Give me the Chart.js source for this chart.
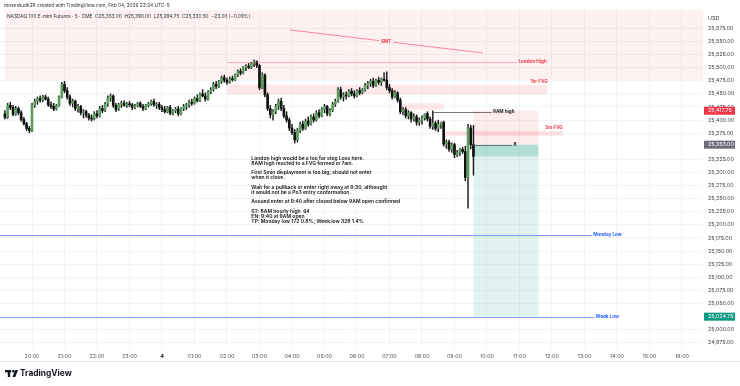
<!DOCTYPE html>
<html>
<head>
<meta charset="utf-8">
<script src="https://cdn.jsdelivr.net/npm/chart.js@4.4.1/dist/chart.umd.min.js"></script>
<style>
  html, body { margin: 0; padding: 0; background: #fff; }
  #wrap { width: 740px; height: 386px; }
</style>
</head>
<body>
<div id="wrap"><canvas id="chart" width="740" height="386"></canvas></div>
<script>
// NQ 5 min, bars from 19:10 (minutes counted from 19:00)
const START_MIN = 10;
const BAR_MIN = 5;

const opens = [
  25412,25405,25428,25424,25411,25422,25414,25401,25393,25384,
  25380,25428,25436,25441,25438,25444,25440,25429,25426,25421,25428,25444,
  25468,25456,25444,25432,25436,25422,25426,25414,25416,25409,25404,25402,
  25412,25408,25422,25418,25430,25442,25446,25428,25420,25430,25432,25428,
  25431,25429,25424,25427,25432,25426,25422,25428,25431,25436,25429,25430,
  25424,25420,25416,25424,25413,25418,25421,25412,25422,25426,25429,25434,
  25432,25441,25437,25450,25446,25440,25454,25458,25468,25464,25474,25481,
  25476,25472,25479,25477,25486,25493,25490,25500,25503,25500,25508,25511,
  25504,25462,25486,25448,25422,25410,25416,25426,25436,25422,25408,25400,
  25385,25376,25362,25380,25392,25384,25398,25392,25406,25400,25414,25408,
  25420,25426,25412,25418,25430,25436,25458,25444,25448,25446,25455,25450,
  25446,25456,25452,25458,25466,25470,25474,25466,25476,25472,25478,25476,
  25462,25456,25444,25452,25438,25416,25420,25408,25414,25402,25406,25396,
  25400,25404,25412,25402,25388,25394,25384,25392,25396,25354,25358,25344,
  25353,25334,25338,25344,25340,25290,25385,25353
];
const highs = [
  25418,25432,25434,25428,25426,25425,25418,25405,25396,25388,
  25432,25440,25444,25446,25447,25448,25444,25435,25432,25430,25446,25472,
  25474,25462,25448,25440,25438,25430,25428,25420,25419,25413,25410,25416,
  25418,25426,25428,25434,25446,25450,25448,25432,25432,25436,25437,25434,
  25436,25432,25430,25434,25435,25430,25430,25434,25438,25440,25433,25434,
  25428,25426,25426,25428,25420,25424,25426,25424,25430,25432,25438,25440,
  25444,25448,25452,25458,25452,25456,25462,25472,25474,25476,25484,25486,
  25480,25482,25484,25488,25496,25498,25502,25506,25508,25510,25515,25513,
  25506,25490,25488,25452,25428,25420,25430,25440,25442,25428,25416,25404,
  25392,25382,25384,25396,25398,25402,25406,25410,25412,25418,25420,25424,
  25430,25428,25422,25434,25440,25462,25463,25452,25454,25458,25460,25456,
  25458,25462,25460,25470,25474,25478,25480,25478,25482,25480,25490,25492,
  25468,25460,25456,25454,25442,25424,25424,25418,25416,25412,25410,25404,
  25408,25412,25416,25406,25417.75,25398,25400,25396,25398,25362,25362,25356,
  25356,25342,25346,25348,25350,25392,25390,25390
];
const lows = [
  25402,25403,25420,25408,25409,25410,25398,25390,25380,25376,
  25378,25424,25430,25434,25435,25438,25426,25422,25418,25419,25426,25442,
  25452,25440,25428,25425,25418,25415,25410,25404,25405,25400,25398,25400,
  25404,25406,25414,25416,25426,25436,25424,25416,25418,25424,25426,25424,
  25426,25420,25421,25425,25424,25418,25420,25425,25428,25426,25422,25420,
  25416,25413,25414,25410,25410,25414,25408,25410,25418,25420,25424,25428,
  25430,25434,25435,25444,25436,25438,25450,25455,25460,25462,25470,25472,
  25468,25470,25474,25475,25483,25486,25488,25494,25498,25498,25502,25500,
  25458,25460,25444,25418,25404,25400,25412,25420,25418,25404,25396,25380,
  25372,25356,25358,25376,25380,25382,25388,25390,25396,25398,25404,25406,
  25414,25408,25408,25416,25426,25434,25440,25436,25440,25444,25446,25442,
  25444,25448,25450,25455,25460,25464,25462,25464,25468,25466,25474,25458,
  25452,25440,25442,25434,25412,25410,25404,25402,25396,25398,25390,25390,
  25392,25400,25398,25384,25382,25380,25378,25384,25350,25346,25340,25338,
  25328,25330,25332,25336,25284,25232,25345,25294.75
];
const closes = [
  25405,25428,25424,25411,25422,25414,25401,25393,25384,25380,
  25428,25436,25441,25438,25444,25440,25429,25426,25421,25428,25444,25468,
  25456,25444,25432,25436,25422,25426,25414,25416,25409,25404,25402,25412,
  25408,25422,25418,25430,25442,25446,25428,25420,25430,25432,25428,25431,
  25429,25424,25427,25432,25426,25422,25428,25431,25436,25429,25430,25424,
  25420,25416,25424,25413,25418,25421,25412,25422,25426,25429,25434,25432,
  25441,25437,25450,25446,25440,25454,25458,25468,25464,25474,25481,25476,
  25472,25479,25477,25486,25493,25490,25500,25503,25500,25508,25511,25504,
  25462,25486,25448,25422,25410,25416,25426,25436,25422,25408,25400,25385,
  25376,25362,25380,25392,25384,25398,25392,25406,25400,25414,25408,25420,
  25426,25412,25418,25430,25436,25458,25444,25448,25446,25455,25450,25446,
  25456,25452,25458,25466,25470,25474,25466,25476,25472,25478,25476,25462,
  25456,25444,25452,25438,25416,25420,25408,25414,25402,25406,25396,25400,
  25404,25412,25402,25388,25394,25384,25392,25396,25354,25358,25344,25353,
  25334,25338,25344,25340,25290,25385,25353,25330.5
];

// axis ticks
const X_TICKS = [60,120,180,240,300,360,420,480,540,600,660,720,780,840,900,960,1020,1080,1140,1200,1260];
const Y_TICKS = [24975,25000,25050,25075,25100,25125,25150,25175,25200,25225,25250,25275,25300,25325,
  25375,25400,25425,25450,25475,25500,25525,25550,25575];
const MIDNIGHT = 300;

// drawings: [startMin, endMin, topPrice, bottomPrice]
const LONDON_ZONE = [10, 1320, 25640, 25477];
const FVG_1H = [420, 1012, 25467, 25449];
const FVG_1H_LABEL = 25474;
const FVG_7AM = [740, 820, 25432, 25420];
const FVG_5M = [822, 1040, 25379, 25370];
const FVG_5M_LABEL = 25385;
const LONDON_HIGH = [420, 955, 25511];
const SMT_LINE = [[536, 25572], [892, 25528]];
const HIGH_8AM = [800, 909, 25416];
const MONDAY_LOW = [0, 1094, 25181];
const WEEK_LOW = [0, 1099, 25025];
// short position: entry, stop, target, last close
const POS_TIME = [875, 995];
const ENTRY = 25353, STOP = 25417.75, TARGET = 25024.75, LAST = 25330.5;
const ENTRY_MARK = [875, 946, 25353];

const NOTE_AT = [465, 25327];
const NOTE_LINES = [
  "London high would be a too far stop Loss here.",
  "8AM high reacted to a FVG formed in 7am.",
  "",
  "First 5min displayment is too big; should not enter",
  "when it close.",
  "",
  "Wait for a pullback or enter right away at 9:30, althought",
  "it would not be a Po3 entry conformation.",
  "",
  "Assued enter at 9:40 after closed below 9AM open confirmed",
  "",
  "ST: 8AM hourly high  64",
  "EN: 9:40 at 9AM open",
  "TP: Monday low 172 0.8%; Week low 328 1.4%"
];

const times = opens.map((_, i) => START_MIN + i * BAR_MIN);
const bodies = times.map((t, i) => ({ x: t, y: [opens[i], closes[i]] }));
const wicks = times.map((t, i) => ({ x: t, y: [lows[i], highs[i]] }));
const bodyColors = opens.map((o, i) => (closes[i] >= o ? "#5b9f5e" : "#111111"));

const FONT = "Inter, 'Noto Sans', sans-serif";
const fmt = v => v.toLocaleString("en-US", { minimumFractionDigits: 2, maximumFractionDigits: 2 });

function hourLabel(v) {
  const h = (19 + v / 60) % 24;
  if (h === 0) return "4";
  return String(h).padStart(2, "0") + ":00";
}
const isMidnight = ctx => !!(ctx && ctx.tick && ctx.tick.value === MIDNIGHT);

const overlays = {
  id: "overlays",
  beforeDatasetsDraw(chart) {
    const { ctx, chartArea: a, scales: { x, y } } = chart;
    const box = (t0, t1, p0, p1, color) => {
      const x0 = x.getPixelForValue(t0), x1 = x.getPixelForValue(t1);
      const y0 = y.getPixelForValue(p0), y1 = y.getPixelForValue(p1);
      ctx.fillStyle = color;
      ctx.fillRect(x0, y0, x1 - x0, y1 - y0);
    };
    ctx.save();
    ctx.beginPath();
    ctx.rect(a.left, a.top, a.right - a.left, a.bottom - a.top);
    ctx.clip();
    box(...LONDON_ZONE, "rgba(242, 54, 69, 0.07)");
    box(...FVG_1H, "rgba(242, 54, 69, 0.12)");
    box(...FVG_7AM, "rgba(242, 54, 69, 0.12)");
    box(POS_TIME[0], POS_TIME[1], STOP, ENTRY, "rgba(242, 54, 69, 0.10)");
    box(POS_TIME[0], POS_TIME[1], ENTRY, TARGET, "rgba(8, 153, 129, 0.12)");
    box(POS_TIME[0], POS_TIME[1], ENTRY, LAST, "rgba(8, 153, 129, 0.22)");
    box(...FVG_5M, "rgba(242, 54, 69, 0.14)");
    ctx.restore();
  },
  afterDatasetsDraw(chart) {
    const { ctx, scales: { x, y } } = chart;
    const hline = (t0, t1, p, color, w) => {
      const yy = Math.round(y.getPixelForValue(p)) + 0.5;
      ctx.strokeStyle = color;
      ctx.lineWidth = w;
      ctx.beginPath();
      ctx.moveTo(x.getPixelForValue(t0), yy);
      ctx.lineTo(x.getPixelForValue(t1), yy);
      ctx.stroke();
    };
    const label = (text, t, p, color, align) => {
      ctx.fillStyle = color;
      ctx.textAlign = align || "left";
      ctx.textBaseline = "middle";
      ctx.fillText(text, x.getPixelForValue(t), y.getPixelForValue(p));
    };
    ctx.save();
    ctx.font = "bold 4.6px " + FONT;

    hline(LONDON_HIGH[0], LONDON_HIGH[1], LONDON_HIGH[2], "rgba(242, 54, 69, 0.35)", 1);
    label("London High", LONDON_HIGH[1] + 3, LONDON_HIGH[2], "#f23645");
    label("1hr FVG", FVG_1H[1], FVG_1H_LABEL, "#f23645", "right");
    label("5m FVG", FVG_5M[1], FVG_5M_LABEL, "#f23645", "right");

    // SMT trend line with label in the middle
    const sx0 = x.getPixelForValue(SMT_LINE[0][0]), sy0 = y.getPixelForValue(SMT_LINE[0][1]);
    const sx1 = x.getPixelForValue(SMT_LINE[1][0]), sy1 = y.getPixelForValue(SMT_LINE[1][1]);
    ctx.strokeStyle = "rgba(236, 64, 96, 0.75)";
    ctx.lineWidth = 0.8;
    ctx.beginPath();
    ctx.moveTo(sx0, sy0);
    ctx.lineTo(sx1, sy1);
    ctx.stroke();
    const mx = (sx0 + sx1) / 2, my = (sy0 + sy1) / 2;
    ctx.fillStyle = "#fdeff1";
    ctx.fillRect(mx - 7, my - 3, 14, 6);
    ctx.fillStyle = "#f23645";
    ctx.textAlign = "center";
    ctx.textBaseline = "middle";
    ctx.fillText("SMT", mx, my);

    hline(HIGH_8AM[0], HIGH_8AM[1], HIGH_8AM[2], "#555", 0.8);
    label("8AM high", HIGH_8AM[1] + 2, HIGH_8AM[2], "#222");
    hline(ENTRY_MARK[0], ENTRY_MARK[1], ENTRY_MARK[2], "#555", 0.8);
    label("8", ENTRY_MARK[1] + 3, ENTRY_MARK[2], "#222");

    hline(MONDAY_LOW[0], MONDAY_LOW[1], MONDAY_LOW[2], "rgba(41, 98, 255, 0.6)", 1);
    label("Monday Low", MONDAY_LOW[1] + 2, MONDAY_LOW[2], "#2962ff");
    hline(WEEK_LOW[0], WEEK_LOW[1], WEEK_LOW[2], "rgba(41, 98, 255, 0.6)", 1);
    label("Week Low", WEEK_LOW[1] + 2, WEEK_LOW[2], "#2962ff");

    // note block
    ctx.font = "600 5px " + FONT;
    ctx.fillStyle = "#111";
    ctx.textAlign = "left";
    ctx.textBaseline = "middle";
    const nx = x.getPixelForValue(NOTE_AT[0]);
    let ny = y.getPixelForValue(NOTE_AT[1]);
    NOTE_LINES.forEach(line => {
      if (line) ctx.fillText(line, nx, ny);
      ny += 4.85;
    });
    ctx.restore();
  },
  afterDraw(chart) {
    const { ctx, chartArea: a, scales: { y } } = chart;
    ctx.save();
    // price tags on the scale
    const tag = (p, bg) => {
      const yy = y.getPixelForValue(p);
      ctx.fillStyle = bg;
      ctx.fillRect(a.right + 1, yy - 4, 31, 8);
      ctx.fillStyle = "#fff";
      ctx.font = "5.4px " + FONT;
      ctx.textAlign = "left";
      ctx.textBaseline = "middle";
      ctx.fillText(fmt(p), a.right + 5, yy);
    };
    tag(STOP, "#f23645");
    tag(ENTRY, "#6a6d78");
    tag(TARGET, "#089981");

    ctx.fillStyle = "#333";
    ctx.font = "5.4px " + FONT;
    ctx.textAlign = "left";
    ctx.textBaseline = "middle";
    ctx.fillText("USD", a.right + 5, 18.5);

    // header
    ctx.fillStyle = "#2a2e39";
    ctx.font = "4.8px " + FONT;
    ctx.fillText("mosesliudk29 created with TradingView.com, Feb 04, 2026 23:24 UTC-5", 4, 5.5);
    ctx.fillText("NASDAQ 100 E-mini Futures \u00b7 5 \u00b7 CME  O25,353.00  H25,390.00  L25,294.75  C25,330.50  \u221223.00 (\u22120.09%)", 7, 17);

    // bottom separator
    ctx.strokeStyle = "#e6e7eb";
    ctx.lineWidth = 1;
    ctx.beginPath();
    ctx.moveTo(0, 361.5);
    ctx.lineTo(740, 361.5);
    ctx.stroke();

    // TradingView logo
    ctx.fillStyle = "#131722";
    ctx.fillRect(5, 370, 6, 2.4);
    ctx.fillRect(7.8, 370, 2.4, 7);
    ctx.beginPath();
    ctx.arc(13.2, 371.3, 1.3, 0, Math.PI * 2);
    ctx.fill();
    ctx.beginPath();
    ctx.moveTo(15.2, 370);
    ctx.lineTo(18, 370);
    ctx.lineTo(15.3, 377);
    ctx.lineTo(12.5, 377);
    ctx.closePath();
    ctx.fill();
    ctx.font = "bold 8.4px " + FONT;
    ctx.fillText("TradingView", 20, 373.5);
    ctx.restore();
  }
};

new Chart(document.getElementById("chart"), {
  type: "bar",
  data: {
    datasets: [
      { data: bodies, backgroundColor: bodyColors, barThickness: 2, grouped: false },
      { data: wicks, backgroundColor: "#1a1a1a", barThickness: 0.8, grouped: false }
    ]
  },
  options: {
    responsive: false,
    animation: false,
    events: [],
    layout: { padding: { top: 10, left: 0, right: 0, bottom: 0 } },
    plugins: { legend: { display: false }, tooltip: { enabled: false } },
    scales: {
      x: {
        type: "linear",
        offset: false,
        min: 0.92,
        max: 1298.8,
        afterFit: s => { s.height = 38; },
        afterBuildTicks: s => { s.ticks = X_TICKS.map(v => ({ value: v })); },
        border: { display: false },
        grid: { color: "#f3f4f6", drawTicks: false, offset: false },
        ticks: {
          padding: 5,
          maxRotation: 0,
          autoSkip: false,
          color: ctx => (isMidnight(ctx) ? "#131722" : "#50535e"),
          font: ctx => ({ family: FONT, size: 5.4, weight: isMidnight(ctx) ? "bold" : "normal" }),
          callback: v => hourLabel(v)
        }
      },
      y: {
        type: "linear",
        position: "right",
        min: 24965,
        max: 25610,
        afterFit: s => { s.width = 37; },
        afterBuildTicks: s => { s.ticks = Y_TICKS.map(v => ({ value: v })); },
        border: { display: false },
        grid: { color: "#f3f4f6", drawTicks: false },
        ticks: {
          padding: 5,
          color: "#3b3e48",
          font: { family: FONT, size: 5.4 },
          callback: v => fmt(v)
        }
      }
    }
  },
  plugins: [overlays]
});
</script>
</body>
</html>
